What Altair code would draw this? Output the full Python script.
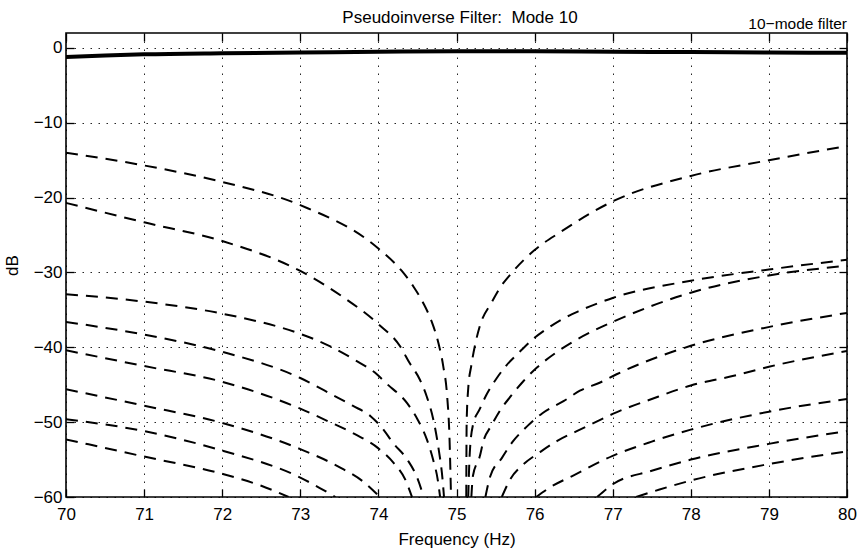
import altair as alt
import pandas as pd

# ---------------- data ----------------
FREQ_TICKS = [70, 71, 72, 73, 74, 75, 76, 77, 78, 79, 80]
DB_TICKS = [0, -10, -20, -30, -40, -50, -60]
TITLE = "Pseudoinverse Filter:\u00a0 Mode 10"
FILTER_LABEL = "10\u2212mode filter"

# thick solid curve (10-mode filter)
filter_hz = [70, 70.5, 71, 72, 73, 74, 75, 76, 77, 78, 79, 80]
filter_db = [-1.2, -1.0, -0.85, -0.7, -0.6, -0.5, -0.45, -0.45, -0.5, -0.55, -0.6, -0.65]

# dashed curves, branches left of the notch
left1_hz = [70, 71, 72, 73, 74, 74.3, 74.45, 74.57, 74.68, 74.77, 74.83, 74.88, 74.91, 74.93]
left1_db = [-14.0, -15.7, -17.9, -21.0, -26.8, -29.8, -31.9, -34.0, -36.5, -39.5, -42.5, -46.5, -52.0, -60]
left2_hz = [70, 71, 72, 73, 73.55, 74, 74.28, 74.4, 74.53, 74.62, 74.7, 74.77, 74.82, 74.84]
left2_db = [-20.7, -23.3, -25.8, -29.8, -33.3, -36.9, -39.9, -42.1, -44.3, -46.6, -49.5, -53.5, -57.5, -60]
left3_hz = [70, 71, 72, 73, 73.2, 73.7, 73.98, 74.1, 74.37, 74.5, 74.62, 74.7, 74.76, 74.79]
left3_db = [-32.9, -33.9, -35.5, -38.2, -39.0, -41.7, -43.6, -44.8, -47.5, -49.6, -52.3, -55.0, -57.7, -60]
left4_hz = [70, 71, 72, 73, 73.42, 73.67, 73.9, 74.05, 74.19, 74.37, 74.5, 74.58]
left4_db = [-36.6, -38.3, -40.6, -44.1, -46.4, -47.8, -49.2, -50.8, -52.8, -55.0, -57.5, -60]
left5_hz = [70, 71, 72, 73, 73.38, 73.7, 74.0, 74.2, 74.35, 74.43]
left5_db = [-40.4, -42.5, -44.6, -48.2, -50.0, -51.6, -53.5, -55.5, -57.8, -60]
left6_hz = [70, 71, 72, 73, 73.5, 73.8, 74.02]
left6_db = [-45.6, -47.8, -50.1, -53.6, -56.0, -57.9, -60]
left7_hz = [70, 71, 72, 73, 73.25, 73.45]
left7_db = [-49.6, -51.2, -53.8, -57.4, -58.8, -60]
left8_hz = [70, 71, 72, 72.5, 72.85]
left8_db = [-52.3, -54.6, -56.9, -58.5, -60]

# dashed curves, branches right of the notch
right1_hz = [75.125, 75.13, 75.15, 75.19, 75.25, 75.3, 75.45, 75.56, 75.72, 76.0, 76.33, 77, 78, 79, 80]
right1_db = [-60, -50, -45.5, -42.4, -39.1, -37.1, -34.0, -32.0, -29.9, -27.0, -24.6, -20.5, -17.1, -15.0, -13.1]
right2_hz = [75.15, 75.17, 75.21, 75.3, 75.38, 75.51, 75.64, 75.81, 75.98, 76.16, 76.36, 76.58, 77, 78, 79, 80]
right2_db = [-60, -54.1, -50.4, -48.2, -46.4, -44.2, -42.4, -40.6, -38.9, -37.5, -36.2, -35.1, -33.4, -31.1, -29.6, -28.3]
right3_hz = [75.19, 75.21, 75.3, 75.34, 75.45, 75.56, 75.69, 75.85, 76.03, 76.29, 76.5, 76.75, 77, 78, 79, 80]
right3_db = [-60, -57.2, -54.5, -52.7, -50.4, -48.4, -46.6, -44.6, -42.7, -40.6, -39.2, -37.8, -36.6, -32.7, -30.4, -29.1]
right4_hz = [75.37, 75.43, 75.58, 75.72, 75.9, 76.1, 76.37, 76.58, 76.84, 77.05, 78, 78.9, 80]
right4_db = [-60, -57.3, -54.8, -52.6, -50.6, -48.8, -47.2, -45.8, -44.7, -43.6, -39.8, -37.5, -35.4]
right5_hz = [75.58, 75.69, 75.85, 76.07, 76.29, 76.54, 76.8, 77.0, 77.5, 78, 78.55, 79, 80]
right5_db = [-60, -57.6, -55.7, -54.0, -52.5, -51.2, -49.9, -48.9, -46.9, -45.1, -43.8, -42.6, -40.5]
right6_hz = [76.02, 76.2, 76.5, 77, 77.5, 78, 79, 80]
right6_db = [-60, -58.7, -57.1, -54.5, -52.6, -51.0, -48.6, -46.9]
right7_hz = [76.8, 77, 77.5, 78, 79, 80]
right7_db = [-60, -58.3, -56.5, -55.0, -52.9, -51.2]
right8_hz = [77.3, 77.6, 78, 79, 80]
right8_db = [-60, -59.0, -57.8, -55.6, -53.9]

# ---------------- tables ----------------
branches = [
    ("L1", left1_hz, left1_db), ("L2", left2_hz, left2_db), ("L3", left3_hz, left3_db),
    ("L4", left4_hz, left4_db), ("L5", left5_hz, left5_db), ("L6", left6_hz, left6_db),
    ("L7", left7_hz, left7_db), ("L8", left8_hz, left8_db),
    ("R1", right1_hz, right1_db), ("R2", right2_hz, right2_db), ("R3", right3_hz, right3_db),
    ("R4", right4_hz, right4_db), ("R5", right5_hz, right5_db), ("R6", right6_hz, right6_db),
    ("R7", right7_hz, right7_db), ("R8", right8_hz, right8_db),
]
rows = []
for name, hz, db in branches:
    for f, d in zip(hz, db):
        rows.append({"curve": name, "hz": f, "db": d})
dash_df = pd.DataFrame(rows)
solid_df = pd.DataFrame({"hz": filter_hz, "db": filter_db})
title_df = pd.DataFrame({"t": [TITLE]})
label_df = pd.DataFrame({"t": [FILTER_LABEL]})

# ---------------- chart ----------------
W, H = 781, 464
FONT = "Liberation Sans"
xscale = alt.Scale(domain=[70, 80], nice=False, zero=False)
yscale = alt.Scale(domain=[-60, 2], nice=False, zero=False)

common = dict(offset=-8, tickSize=8, domain=False, tickColor="black", tickWidth=1.3,
              labelFont=FONT, labelColor="black", titleFont=FONT, titleColor="black",
              titleFontWeight="normal", labelFlush=False, labelOverlap=False)
grid = dict(grid=True, gridColor="black", gridDash=[1.5, 6.5], gridWidth=1, gridOpacity=0.85)

x_bottom = alt.Axis(values=FREQ_TICKS, orient="bottom", title="Frequency (Hz)", format="d",
                    labelFontSize=17, titleFontSize=17, labelPadding=9, titlePadding=9,
                    **grid, **common)
y_left = alt.Axis(values=DB_TICKS, orient="left", title="dB", format="d",
                  labelFontSize=17, titleFontSize=17, labelPadding=4, titlePadding=12,
                  **grid, **common)
x_top = alt.Axis(values=FREQ_TICKS, orient="top", title="", labels=False, grid=False, **common)
y_right = alt.Axis(values=DB_TICKS, orient="right", title="", labels=False, grid=False, **common)

dashed = alt.Chart(dash_df).mark_line(
    color="black", strokeWidth=2, strokeDash=[12, 8], interpolate="monotone", clip=True
).encode(
    x=alt.X("hz:Q", scale=xscale, axis=x_bottom),
    y=alt.Y("db:Q", scale=yscale, axis=y_left),
    detail="curve:N",
)

solid = alt.Chart(solid_df).mark_line(
    color="black", strokeWidth=4, interpolate="monotone", clip=True
).encode(
    x=alt.X("hz:Q", scale=xscale, axis=x_top),
    y=alt.Y("db:Q", scale=yscale, axis=y_right),
)

title_mark = alt.Chart(title_df).mark_text(
    font=FONT, fontSize=17, color="black", align="center", baseline="alphabetic"
).encode(x=alt.value(394), y=alt.value(-10), text="t:N")

label_mark = alt.Chart(label_df).mark_text(
    font=FONT, fontSize=15.5, color="black", align="right", baseline="alphabetic"
).encode(x=alt.value(W), y=alt.value(-4), text="t:N")

chart = alt.layer(dashed, solid, title_mark, label_mark).resolve_axis(
    x="independent", y="independent"
).properties(
    width=W, height=H,
    autosize=alt.AutoSizeParams(type="none"),
    padding={"left": 66, "top": 33, "right": 11, "bottom": 55},
    background="white",
).configure_view(stroke="black", strokeWidth=1.6)

chart.save("out.html", embed_options={"renderer": "svg", "actions": False})
